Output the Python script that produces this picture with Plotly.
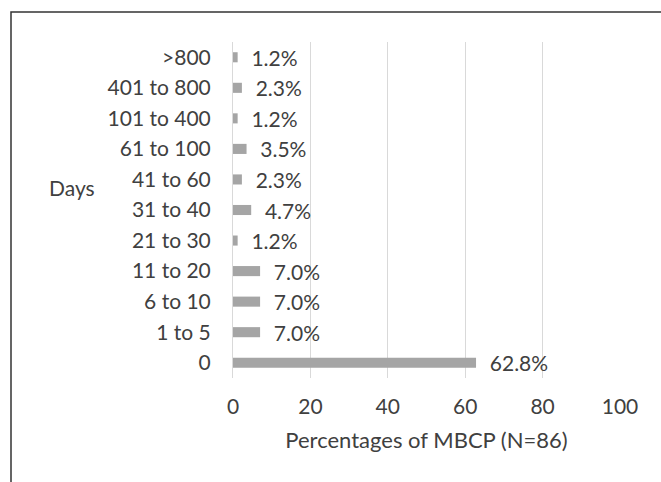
import plotly.graph_objects as go

categories = ["0", "1 to 5", "6 to 10", "11 to 20", "21 to 30", "31 to 40",
              "41 to 60", "61 to 100", "101 to 400", "401 to 800", ">800"]
percentages = [62.8, 7.0, 7.0, 7.0, 1.2, 4.7, 2.3, 3.5, 1.2, 2.3, 1.2]
x_ticks = [0, 20, 40, 60, 80, 100]

FONT = "Lato"
TXT = "#404040"
FS = 21

fig = go.Figure(go.Bar(
    y=categories, x=percentages, orientation="h",
    marker=dict(color="#a5a5a5", line=dict(width=0)),
    texttemplate="\u00a0\u00a0%{x:.1f}%", textposition="outside",
    constraintext="none",
    textfont=dict(family=FONT, size=FS, color=TXT),
    cliponaxis=False,
))

fig.update_layout(
    width=661, height=482,
    margin=dict(l=233, r=41, t=42, b=104),
    paper_bgcolor="white", plot_bgcolor="white",
    bargap=0.67,
    showlegend=False,
    font=dict(family=FONT, size=FS, color=TXT),
    xaxis=dict(range=[0, 100], tickvals=x_ticks, showgrid=True,
               gridcolor="#d9d9d9", gridwidth=1, zeroline=False,
               showline=False, ticks="", ticklabelstandoff=14,
               tickfont=dict(size=FS, color=TXT),
               title=dict(text="Percentages of MBCP (N=86)", standoff=15,
                          font=dict(size=22, color=TXT))),
    yaxis=dict(categoryorder="array", categoryarray=categories,
               showgrid=False, zeroline=False, ticks="",
               showline=True, linecolor="#d9d9d9", linewidth=1,
               ticklabelstandoff=17, tickfont=dict(size=FS, color=TXT)),
    annotations=[dict(text="Days", xref="paper", yref="paper",
                      x=(72 - 233) / 387, y=(378 - 187) / 336,
                      showarrow=False, xanchor="center", yanchor="middle",
                      font=dict(size=FS, color=TXT))],
    shapes=[dict(type="path", xref="paper", yref="paper",
                 path="M %f %f L %f %f L %f %f" % (
                     (11 - 233) / 387, (378 - 482) / 336,
                     (11 - 233) / 387, (378 - 12) / 336,
                     (661 - 233) / 387, (378 - 12) / 336),
                 line=dict(color="#333333", width=1.5))],
)

fig.write_html("out.html", config={"displayModeBar": False},
               post_script="document.body.style.margin='0';document.body.style.overflow='hidden';")
